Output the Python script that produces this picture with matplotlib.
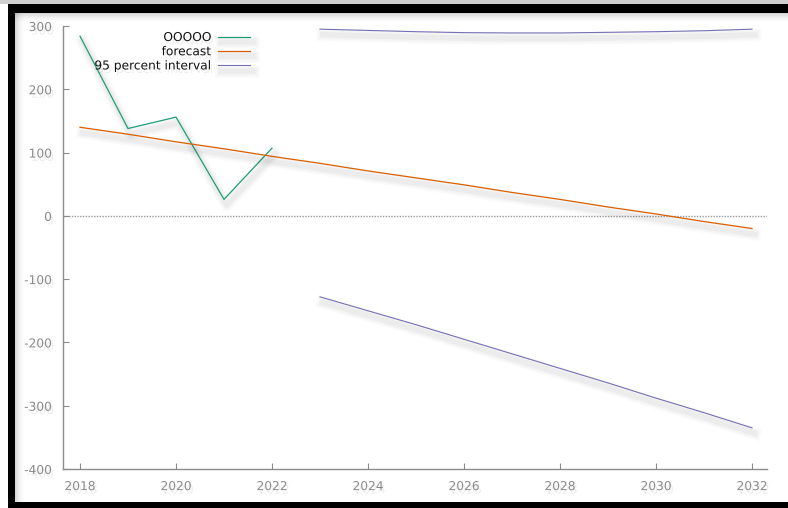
"""Forecast chart with 95 percent interval, gnuplot-like look with soft shadows."""
import matplotlib
matplotlib.use("Agg")
import matplotlib.pyplot as plt
import matplotlib.patheffects as pe
from matplotlib.patches import Rectangle

plt.rcParams["font.family"] = "DejaVu Sans"
plt.rcParams["axes.unicode_minus"] = False

W, H = 788, 508

# ---------------------------------------------------------------------------
# data
# ---------------------------------------------------------------------------
obs_years = [2018, 2019, 2020, 2021, 2022]
obs_values = [284, 138, 156, 26, 107]

fc_years = list(range(2018, 2033))
fc_values = [140, 129, 117, 106, 94, 83, 71, 60, 49, 37, 26, 14, 3, -9, -20]

ci_years = list(range(2023, 2033))
ci_upper = [295, 293, 291, 289.5, 289, 289, 290, 291, 292.5, 295]
ci_lower = [-128, -150, -172, -195, -218, -241, -264, -288, -311, -335]

x_ticks = list(range(2018, 2033, 2))
y_ticks = list(range(-400, 301, 100))

GREEN = "#1b9e77"
ORANGE = "#d95f02"
PURPLE = "#7570b3"
AXIS_GRAY = "#8a8a8a"


def shadow(offset=(2, -4)):
    # cheap blur: a few widening, faint shadows under the line
    effects = []
    for lw, a in [(9, 0.018), (6.5, 0.022), (4, 0.03)]:
        effects.append(pe.SimpleLineShadow(offset=offset, shadow_color="black",
                                           alpha=a, linewidth=lw))
    effects.append(pe.Normal())
    return effects


def text_shadow():
    return [pe.withSimplePatchShadow(offset=(1.5, -2.5), shadow_rgbFace="black", alpha=0.07)]


fig = plt.figure(figsize=(W / 100, H / 100), dpi=100, facecolor="white")


def fx(px):
    return px / W


def fy(py):
    return 1 - py / H


# frame: light strip on top, black border left/top/bottom, soft inner shadow
fig.patches.append(Rectangle((0, fy(4)), 1, 4 / H, transform=fig.transFigure,
                             facecolor="#cfcfcf", edgecolor="none", zorder=0))
fig.patches.append(Rectangle((fx(8), fy(13)), 1, 9 / H, transform=fig.transFigure,
                             facecolor="black", edgecolor="none", zorder=3))
fig.patches.append(Rectangle((fx(8), fy(508)), 7 / W, 495 / H, transform=fig.transFigure,
                             facecolor="black", edgecolor="none", zorder=3))
fig.patches.append(Rectangle((fx(8), 0), 1, 6 / H, transform=fig.transFigure,
                             facecolor="black", edgecolor="none", zorder=3))
for i in range(10):
    a = 0.16 * (1 - i / 10) ** 2
    fig.patches.append(Rectangle((fx(15 + i), fy(502)), 1 / W, 489 / H, transform=fig.transFigure,
                                 facecolor="black", alpha=a, edgecolor="none", zorder=1))
    fig.patches.append(Rectangle((fx(15), fy(14 + i)), 1, 1 / H, transform=fig.transFigure,
                                 facecolor="black", alpha=a, edgecolor="none", zorder=1))

ax = fig.add_axes([fx(63), fy(469), (767 - 63) / W, (469 - 26) / H])
ax.set_facecolor("none")

ax.axhline(0, color="#9a9a9a", lw=1.0, ls=(0, (1, 1)), zorder=1)

ax.plot(obs_years, obs_values, color=GREEN, lw=0.9, label="OOOOO", path_effects=shadow())
ax.plot(fc_years, fc_values, color=ORANGE, lw=0.9, label="forecast", path_effects=shadow())
ax.plot(ci_years, ci_upper, color=PURPLE, lw=0.8, label="95 percent interval", path_effects=shadow())
ax.plot(ci_years, ci_lower, color=PURPLE, lw=0.8, path_effects=shadow())

ax.set_xlim(2018 - 17 / 48, 2032 + 15 / 48)
ax.set_ylim(-400, 300)
ax.set_xticks(x_ticks)
ax.set_yticks(y_ticks)

for s in ["top", "right"]:
    ax.spines[s].set_visible(False)
for s in ["left", "bottom"]:
    ax.spines[s].set_color(AXIS_GRAY)
    ax.spines[s].set_linewidth(1.0)

ax.tick_params(direction="in", length=4, width=0.8, color=AXIS_GRAY,
               labelcolor="#8a8a8a", labelsize=8.8)
ax.tick_params(axis="x", pad=8)
ax.tick_params(axis="y", pad=8)
for lab in ax.get_xticklabels() + ax.get_yticklabels():
    lab.set_path_effects(text_shadow())

leg = ax.legend(loc="upper right", bbox_to_anchor=(fx(250), fy(31)),
                bbox_transform=fig.transFigure, frameon=False, markerfirst=False,
                fontsize=8.8, handlelength=2.6, handletextpad=0.55,
                labelspacing=0.1, borderpad=0, borderaxespad=0)
for col in leg._legend_handle_box.get_children():
    col.align = "right"
for t in leg.get_texts():
    t.set_color("#111111")
    t.set_path_effects(text_shadow())

fig.savefig("out.png", dpi=100, facecolor="white")
